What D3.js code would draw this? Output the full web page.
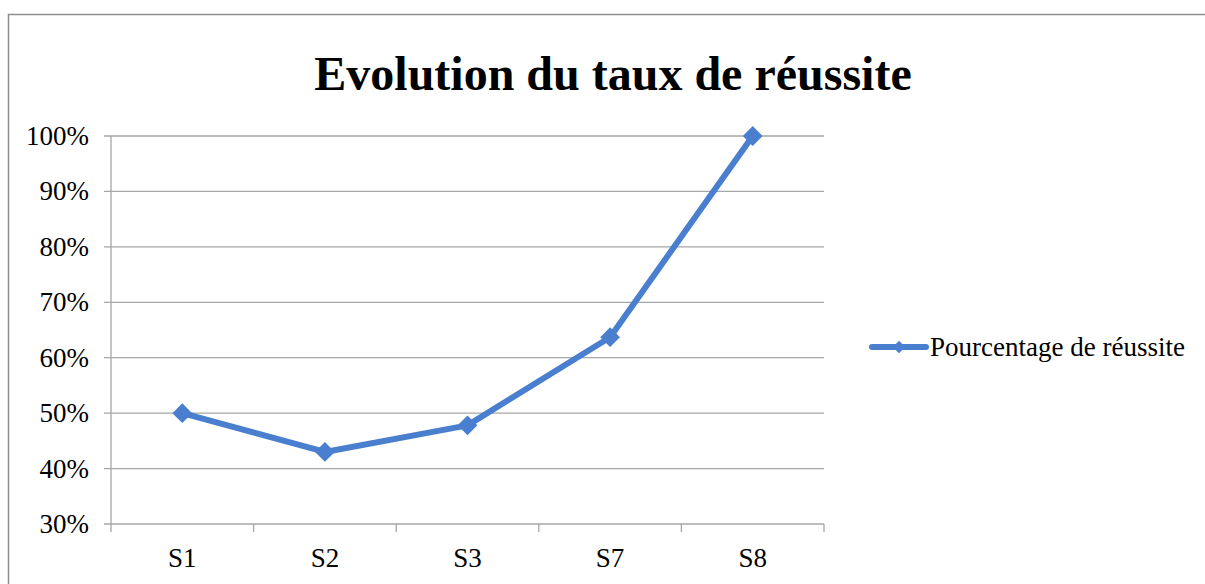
<!DOCTYPE html>
<html>
<head>
<meta charset="utf-8">
<script src="https://cdn.jsdelivr.net/npm/d3@7"></script>
<style>
  body { margin: 0; background: #fff; }
  svg { display: block; }
</style>
</head>
<body>
<div id="chart"></div>
<script>
// Data.
var categories = ['S1', 'S2', 'S3', 'S7', 'S8'];
var values = [0.50, 0.43, 0.478, 0.637, 1.00];
var yTicks = [0.3, 0.4, 0.5, 0.6, 0.7, 0.8, 0.9, 1.0];
var seriesName = 'Pourcentage de réussite';
var title = 'Evolution du taux de réussite';

var width = 1205, height = 584;
var plot = { left: 111, top: 136, right: 824, bottom: 524 };
var blue = '#4a7fcf';
var gridColor = '#a6a6a6';
var font = '"Liberation Serif", "Times New Roman", serif';

var svg = d3.select('#chart').append('svg')
  .attr('width', width)
  .attr('height', height);

// Chart frame (runs past the right and bottom edges).
svg.append('rect')
  .attr('x', 8.5).attr('y', 14.5)
  .attr('width', 1220).attr('height', 600)
  .attr('fill', '#fff')
  .attr('stroke', '#8e8e8e')
  .attr('stroke-width', 1.5);

svg.append('text')
  .text(title)
  .attr('x', 613).attr('y', 90)
  .attr('text-anchor', 'middle')
  .style('font-family', font)
  .style('font-weight', 'bold')
  .style('font-size', '48px');

var x = d3.scaleBand()
  .domain(categories)
  .range([plot.left, plot.right]);

var y = d3.scaleLinear()
  .domain([0.3, 1.0])
  .range([plot.bottom, plot.top]);

// Gridlines.
svg.append('g')
  .selectAll('line').data(yTicks).enter()
  .append('line')
    .attr('x1', plot.left - 7).attr('x2', plot.right)
    .attr('y1', function(d) { return y(d); })
    .attr('y2', function(d) { return y(d); })
    .attr('stroke', gridColor)
    .attr('stroke-width', 1.3);

// Y axis labels.
svg.append('g')
  .selectAll('text').data(yTicks).enter()
  .append('text')
    .text(function(d) { return d3.format('.0%')(d); })
    .attr('x', 89)
    .attr('y', function(d) { return y(d) + 9; })
    .attr('text-anchor', 'end')
    .style('font-family', font)
    .style('font-size', '27px');

// Vertical axis line.
svg.append('line')
  .attr('x1', plot.left).attr('x2', plot.left)
  .attr('y1', plot.top).attr('y2', plot.bottom)
  .attr('stroke', gridColor).attr('stroke-width', 1.3);

// X axis ticks between categories.
var xTickPos = categories.map(function(c) { return x(c); }).concat([plot.right]);
svg.append('g')
  .selectAll('line').data(xTickPos).enter()
  .append('line')
    .attr('x1', function(d) { return d; })
    .attr('x2', function(d) { return d; })
    .attr('y1', plot.bottom).attr('y2', plot.bottom + 8)
    .attr('stroke', gridColor).attr('stroke-width', 1.3);

svg.append('g')
  .selectAll('text').data(categories).enter()
  .append('text')
    .text(function(d) { return d; })
    .attr('x', function(d) { return x(d) + x.bandwidth() / 2; })
    .attr('y', 567)
    .attr('text-anchor', 'middle')
    .style('font-family', font)
    .style('font-size', '27px');

// Series line.
var line = d3.line()
  .x(function(d, i) { return x(categories[i]) + x.bandwidth() / 2; })
  .y(function(d) { return y(d); });

svg.append('path')
  .datum(values)
  .attr('d', line)
  .attr('fill', 'none')
  .attr('stroke', blue)
  .attr('stroke-width', 6)
  .attr('stroke-linejoin', 'round');

var diamond = d3.symbol().type(d3.symbolDiamond2).size(250);

svg.append('g')
  .selectAll('path').data(values).enter()
  .append('path')
    .attr('d', diamond)
    .attr('transform', function(d, i) {
      return 'translate(' + (x(categories[i]) + x.bandwidth() / 2) + ',' + y(d) + ')';
    })
    .attr('fill', blue);

// Legend.
var legend = svg.append('g').attr('transform', 'translate(0, 347)');
legend.append('line')
  .attr('x1', 872).attr('x2', 926)
  .attr('y1', 0).attr('y2', 0)
  .attr('stroke', blue)
  .attr('stroke-width', 6)
  .attr('stroke-linecap', 'round');
legend.append('path')
  .attr('d', d3.symbol().type(d3.symbolDiamond2).size(100))
  .attr('transform', 'translate(899,0)')
  .attr('fill', blue);
legend.append('text')
  .text(seriesName)
  .attr('x', 930).attr('y', 9)
  .style('font-family', font)
  .style('font-size', '27px');
</script>
</body>
</html>
